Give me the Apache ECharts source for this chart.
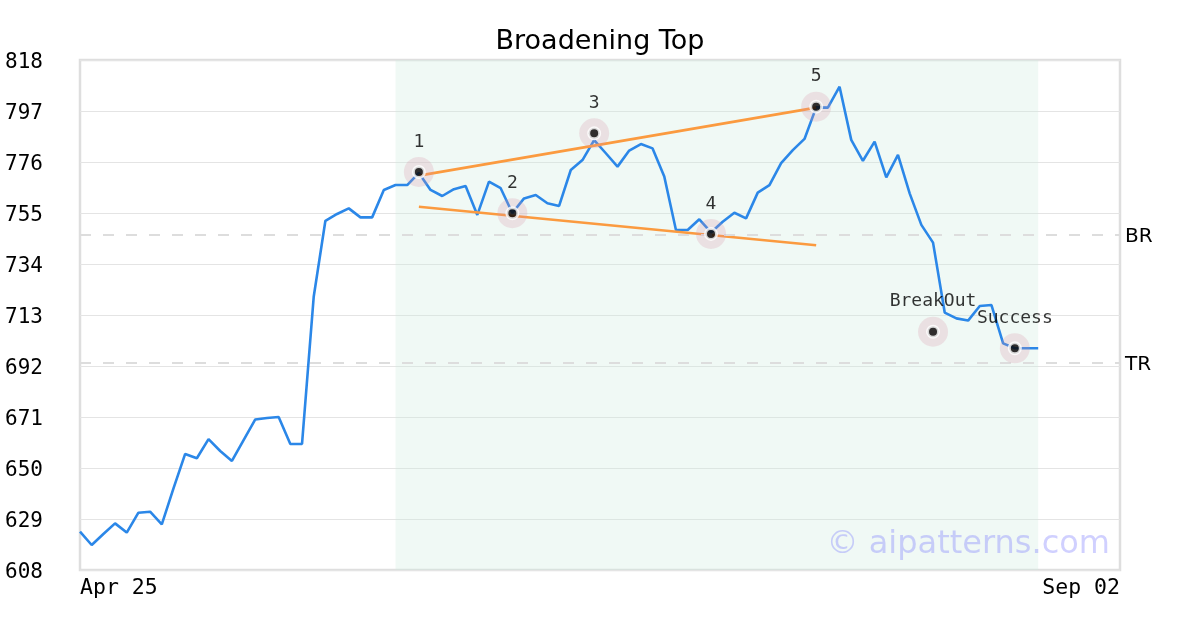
<!DOCTYPE html>
<html>
<head>
<meta charset="utf-8">
<script src="https://cdn.jsdelivr.net/npm/echarts@6/dist/echarts.min.js"></script>
<style>
html,body{margin:0;padding:0;background:#fff;}
#chart{width:1200px;height:630px;}
</style>
</head>
<body>
<div id="chart"></div>
<script>
// ---- data ----
const firstDate = 'Apr 25';
const lastDate = 'Sep 02';
const slotCount = 90;
const categories = Array.from({length: slotCount}, (_, i) => i === 0 ? firstDate : (i === slotCount - 1 ? lastDate : 'd' + i));

const prices = [
  623.8, 618.3, 622.8, 627.2, 623.4, 631.6, 632.0, 626.8, 641.6, 655.8,
  654.0, 661.9, 657.0, 652.9, 661.5, 670.0, 670.6, 671.0, 659.9, 659.9,
  720.5, 751.8, 754.6, 756.9, 753.2, 753.2, 764.5, 766.5, 766.5, 771.5,
  764.5, 762.0, 764.8, 766.1, 754.2, 767.9, 765.2, 755.0, 761.0, 762.4,
  759.0, 757.9, 772.7, 776.8, 785.0, 779.6, 774.1, 780.7, 783.4, 781.6,
  770.0, 748.0, 748.0, 752.4, 747.0, 751.4, 755.1, 752.8, 763.4, 766.5,
  775.5, 780.9, 785.5, 798.5, 798.4, 807.0, 785.1, 776.5, 784.4, 769.7,
  778.9, 763.1, 750.1, 742.8, 714.0, 711.6, 710.7, 716.7, 717.1, 701.3,
  699.3, 699.3, 699.3
];

const pointLabels = ['1', '2', '3', '4', '5', 'BreakOut', 'Success'];
const pointIndex  = [29, 37, 44, 54, 63, 73, 80];
const pointValues = [771.9, 754.9, 787.8, 746.4, 798.8, 706.1, 699.3];

const upperTrend = [[29, 770.4], [63, 798.4]];
const lowerTrend = [[29, 757.6], [63, 741.7]];

const levelNames  = ['BR', 'TR'];
const levelValues = [745.9, 693.2];

const zoneStart = 27;
const zoneEnd = 82;

const yMin = 608, yMax = 818, yStep = 21;

// ---- chart ----
const chart = echarts.init(document.getElementById('chart'), null, {renderer: 'canvas'});
const mono = 'DejaVu Sans Mono';
const sans = 'DejaVu Sans';

const pts = pointIndex.map((x, k) => ({value: [x, pointValues[k]], name: pointLabels[k]}));

chart.setOption({
  animation: false,
  backgroundColor: '#ffffff',
  title: {
    text: 'Broadening Top',
    left: 'center',
    top: 23,
    textStyle: {fontFamily: sans, fontSize: 27, fontWeight: 'normal', color: '#000'}
  },
  grid: {left: 80, right: 80, top: 60, bottom: 60, show: true, borderColor: '#dedede', borderWidth: 2.5, backgroundColor: 'transparent'},
  xAxis: {
    type: 'category',
    data: categories,
    boundaryGap: false,
    axisLine: {show: false},
    axisTick: {show: false},
    splitLine: {show: false},
    axisLabel: {
      interval: (i) => i === 0 || i === slotCount - 1,
      fontFamily: mono, fontSize: 21.5, color: '#000', margin: 7,
      alignMinLabel: 'left', alignMaxLabel: 'right',
      formatter: (v) => (v === firstDate || v === lastDate) ? v : ''
    }
  },
  yAxis: {
    type: 'value',
    min: yMin, max: yMax, interval: yStep,
    axisLine: {show: false},
    axisTick: {show: false},
    splitLine: {show: true, lineStyle: {color: '#e4e4e4', width: 1}},
    axisLabel: {
      margin: 37,
      formatter: (v) => '{a|' + v + '}',
      rich: {a: {fontFamily: mono, fontSize: 21, color: '#000', padding: [6, 0, 0, 0]}}
    }
  },
  graphic: [{
    type: 'text',
    right: 90,
    top: 529,
    z: 100,
    style: {text: '\u00a9 aipatterns.com', font: '32px "DejaVu Sans"', fill: 'rgba(120,120,255,0.35)'}
  }],
  series: [
    {
      type: 'line',
      data: prices,
      symbol: 'none',
      lineStyle: {color: '#2b87e8', width: 2.6},
      z: 3,
      markArea: {
        silent: true,
        itemStyle: {color: 'rgba(205,235,222,0.3)'},
        data: [[{xAxis: zoneStart}, {xAxis: zoneEnd}]]
      },
      markLine: {
        silent: true,
        symbol: 'none',
        lineStyle: {color: '#dddddd', width: 2, type: [11, 12]},
        label: {
          position: 'end', distance: 5,
          formatter: (p) => '{a|' + p.name + '}',
          rich: {a: {fontFamily: sans, fontSize: 20, color: '#000', padding: [4, 0, 0, 0]}}
        },
        data: levelValues.map((v, k) => ({yAxis: v, name: levelNames[k]}))
      }
    },
    {
      type: 'line',
      data: upperTrend,
      symbol: 'none',
      lineStyle: {color: '#fb9a3f', width: 2.6},
      z: 4
    },
    {
      type: 'line',
      data: lowerTrend,
      symbol: 'none',
      lineStyle: {color: '#fb9a3f', width: 2.6},
      z: 4
    },
    {
      type: 'scatter',
      data: pts,
      symbol: 'circle',
      symbolSize: 30,
      itemStyle: {color: 'rgba(220,150,170,0.3)'},
      z: 5,
      silent: true
    },
    {
      type: 'scatter',
      data: pts,
      symbol: 'circle',
      symbolSize: 11,
      itemStyle: {color: '#000', borderColor: '#fff', borderWidth: 3},
      z: 6,
      label: {show: true, position: 'top', distance: 14, fontFamily: mono, fontSize: 18, color: '#000', formatter: (p) => p.name}
    }
  ]
});
</script>
</body>
</html>
